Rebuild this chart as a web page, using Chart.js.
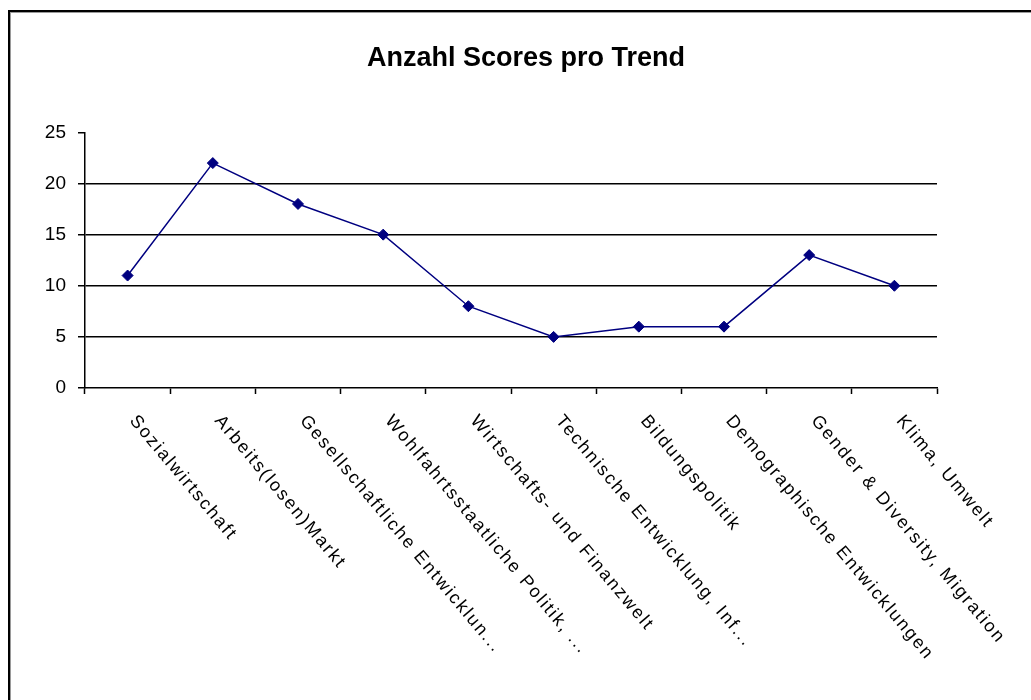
<!DOCTYPE html>
<html>
<head>
<meta charset="utf-8">
<script src="https://cdn.jsdelivr.net/npm/chart.js@4/dist/chart.umd.min.js"></script>
<style>
  html, body { margin: 0; padding: 0; background: #fff; overflow: hidden; }
  #wrap { position: relative; width: 1031px; height: 700px; }
</style>
</head>
<body>
<div id="wrap"><canvas id="chart"></canvas></div>
<script>
// Chart data
const trends = [
    'Sozialwirtschaft',
    'Arbeits(losen)Markt',
    'Gesellschaftliche Entwicklun...',
    'Wohlfahrtsstaatliche Politik, ...',
    'Wirtschafts- und Finanzwelt',
    'Technische Entwicklung, Inf...',
    'Bildungspolitik',
    'Demographische Entwicklungen',
    'Gender & Diversity, Migration',
    'Klima, Umwelt'
];
const scores = [11, 22, 18, 15, 8, 5, 6, 6, 13, 10];
const yTicks = [0, 5, 10, 15, 20, 25];
const chartTitle = 'Anzahl Scores pro Trend';

Chart.defaults.font.family = '"Liberation Sans", Arial, sans-serif';
Chart.defaults.color = '#000';

// Outer frame (left + top edge only, the rest is cut off)
const framePlugin = {
    id: 'frame',
    beforeDraw(chart) {
        const ctx = chart.ctx;
        ctx.save();
        ctx.fillStyle = '#fff';
        ctx.fillRect(0, 0, chart.width, chart.height);
        ctx.fillStyle = '#000';
        ctx.fillRect(8, 10, chart.width, 2);
        ctx.fillRect(8, 10, 2, chart.height);
        ctx.fillStyle = '#9a9a9a';
        ctx.fillRect(10, 12, chart.width, 1);
        ctx.fillRect(10, 12, 1, chart.height);
        ctx.restore();
    }
};

// Rotated category labels, starting at the tick and running down to the right
const slantedLabels = {
    id: 'slantedLabels',
    afterDraw(chart) {
        const ctx = chart.ctx;
        const xScale = chart.scales.x;
        ctx.save();
        ctx.fillStyle = '#000';
        ctx.font = '18px "Liberation Sans", Arial, sans-serif';
        ctx.letterSpacing = '2px';
        ctx.textAlign = 'left';
        ctx.textBaseline = 'top';
        trends.forEach((label, i) => {
            const x = xScale.getPixelForValue(i) + 12;
            const y = xScale.top + 24;
            ctx.save();
            ctx.translate(x, y);
            ctx.rotate(50 * Math.PI / 180);
            ctx.fillText(label, 0, 0);
            ctx.restore();
        });
        ctx.restore();
    }
};

const ctx = document.getElementById('chart').getContext('2d');
new Chart(ctx, {
    type: 'line',
    data: {
        labels: trends,
        datasets: [{
            label: 'Scores',
            data: scores,
            borderColor: '#000080',
            backgroundColor: '#000080',
            borderWidth: 1.5,
            pointStyle: 'rectRot',
            pointRadius: 5.5,
            pointBorderWidth: 1,
            pointBackgroundColor: '#000080',
            pointBorderColor: '#000080',
            tension: 0,
            fill: false
        }]
    },
    options: {
        responsive: true,
        maintainAspectRatio: false,
        animation: false,
        layout: {
            padding: { left: 21, right: 0, top: 0, bottom: 0 }
        },
        plugins: {
            legend: { display: false },
            tooltip: { enabled: false },
            title: {
                display: true,
                text: chartTitle,
                color: '#000',
                font: { size: 27, weight: 'bold' },
                padding: { top: 42, bottom: 58 }
            }
        },
        scales: {
            x: {
                type: 'category',
                offset: true,
                grid: {
                    offset: true,
                    drawOnChartArea: false,
                    drawTicks: true,
                    tickLength: 6,
                    tickColor: '#000',
                    tickWidth: 1.5
                },
                border: { display: true, color: '#000', width: 1.5 },
                ticks: { display: false },
                afterFit(scale) {
                    scale.height = 312;
                }
            },
            y: {
                position: 'left',
                min: 0,
                max: 25,
                afterBuildTicks(scale) {
                    scale.ticks = yTicks.map(v => ({ value: v }));
                },
                grid: {
                    color: c => (c.tick && c.tick.value > 0 && c.tick.value < 25) ? '#000' : 'rgba(0,0,0,0)',
                    lineWidth: 1.5,
                    tickColor: '#000',
                    tickLength: 7,
                    tickWidth: 1.5
                },
                border: { display: true, color: '#000', width: 1.5 },
                ticks: {
                    color: '#000',
                    font: { size: 19 },
                    padding: 12
                },
                afterFit(scale) {
                    scale.width = 64;
                }
            },
            spacer: {
                type: 'linear',
                position: 'right',
                display: true,
                grid: { display: false },
                border: { display: false },
                ticks: { display: false },
                afterFit(scale) {
                    scale.width = 94;
                }
            }
        }
    },
    plugins: [framePlugin, slantedLabels]
});
</script>
</body>
</html>
